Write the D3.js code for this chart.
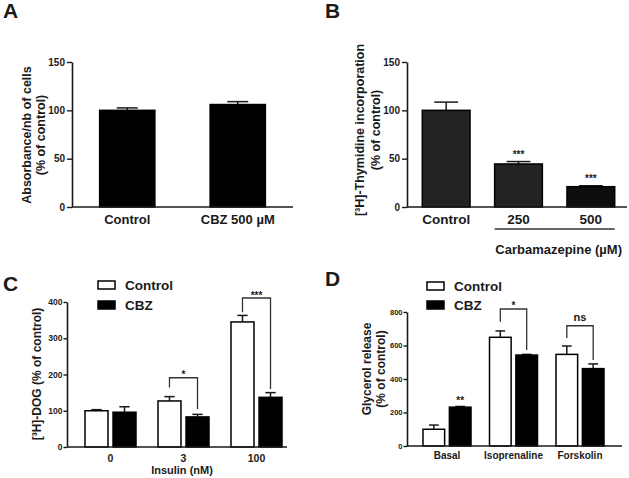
<!DOCTYPE html>
<html><head><meta charset="utf-8">
<script src="https://cdn.jsdelivr.net/npm/d3@7"></script>
<style>
body{margin:0;background:#fff;}
text{font-family:"Liberation Sans",Arial,sans-serif;font-weight:bold;fill:#1a1a1a;}
</style></head>
<body><svg id="chart" width="629" height="478"></svg>
<script>
// ---- Panel A data ----
const aCategories = ["Control", "CBZ 500 µM"];
const aValues = [100, 106];
const aErrors = [2.5, 3];
const aTicks = [0, 50, 100, 150];

// ---- Panel B data ----
const bCategories = ["Control", "250", "500"];
const bValues = [100, 44.5, 21];
const bErrors = [8.5, 2.5, 1];
const bSig = ["", "***", "***"];
const bTicks = [0, 50, 100, 150];

// ---- Panel C data ----
const cGroups = ["0", "3", "100"];
const cSeries = ["Control", "CBZ"];
const cControl = [100, 127, 345];
const cControlErr = [3, 12, 18];
const cCBZ = [96, 83, 137];
const cCBZErr = [15, 7, 13];
const cSigLabel = ["", "*", "***"];
const cSigTop = [null, 191, 411];
const cSigLeft = [null, 164, 372];
const cSigRight = [null, 105, 160];
const cTicks = [0, 100, 200, 300, 400];

// ---- Panel D data ----
const dGroups = ["Basal", "Isoprenaline", "Forskolin"];
const dControl = [100, 649, 547];
const dControlErr = [25, 38, 50];
const dCBZ = [232, 543, 462];
const dCBZErr = [4, 4, 28];
const dCBZStar = ["**", "", ""];
const dSigLabel = ["", "*", "ns"];
const dSigTop = [null, 818, 718];
const dSigLeft = [null, 742, 645];
const dSigRight = [null, 573, 513];
const dTicks = [0, 200, 400, 600, 800];

const svg = d3.select("#chart");
const INK = "#1a1a1a";

function yAxis(g, x, y, ticks, fs, size, pad) {
  const ax = g.append("g").attr("transform", `translate(${x},0)`)
    .call(d3.axisLeft(y).tickValues(ticks).tickSize(size).tickSizeOuter(0).tickPadding(pad));
  ax.select(".domain").attr("stroke", INK).attr("stroke-width", 1.6);
  ax.selectAll(".tick line").attr("stroke", INK).attr("stroke-width", 1.4);
  ax.selectAll(".tick text").style("font-size", fs + "px").attr("fill", INK)
    .style("font-family", '"Liberation Sans",Arial,sans-serif').style("font-weight", "bold");
  return ax;
}
function xLine(g, x0, x1, y0) {
  g.append("line").attr("x1", x0).attr("x2", x1).attr("y1", y0).attr("y2", y0)
    .attr("stroke", INK).attr("stroke-width", 1.6);
}
function bar(g, x, w, y, v, fill) {
  g.append("rect").attr("x", x).attr("width", w)
    .attr("y", y(v)).attr("height", y(0) - y(v))
    .attr("fill", fill).attr("stroke", "#000").attr("stroke-width", 1.5);
}
function errBar(g, cx, capW, y, v, e) {
  g.append("line").attr("x1", cx).attr("x2", cx).attr("y1", y(v)).attr("y2", y(v + e))
    .attr("stroke", INK).attr("stroke-width", 1.5);
  g.append("line").attr("x1", cx - capW / 2).attr("x2", cx + capW / 2).attr("y1", y(v + e)).attr("y2", y(v + e))
    .attr("stroke", INK).attr("stroke-width", 1.5);
}
function letter(t, x, y) {
  svg.append("text").attr("x", x).attr("y", y).text(t).style("font-size", "21px");
}
function vtitle(lines, xs, cy, fs) {
  lines.forEach((l, i) => {
    svg.append("text").attr("transform", `translate(${xs[i]},${cy}) rotate(-90)`)
      .attr("text-anchor", "middle").attr("dominant-baseline", "central")
      .style("font-size", fs + "px").text(l);
  });
}

// ================= Panel A =================
{
  const g = svg.append("g");
  const y = d3.scaleLinear().domain([0, 150]).range([207, 62]);
  const x = d3.scaleBand().domain(aCategories).range([72, 293]).padding(0);
  const bw = x.bandwidth() * 0.5;
  aCategories.forEach((c, i) => {
    const cx = x(c) + x.bandwidth() / 2;
    errBar(g, cx, bw * 0.38, y, aValues[i], aErrors[i]);
    bar(g, cx - bw / 2, bw, y, aValues[i], "#000");
    g.append("text").attr("x", cx).attr("y", 224).attr("text-anchor", "middle")
      .style("font-size", "13px").text(c);
  });
  yAxis(g, 72, y, aTicks, 10, 5, 2);
  xLine(g, 72, 293, 207);
  letter("A", 3, 18);
  vtitle(["Absorbance/nb of cells", "(% of control)"], [27, 41], 135, 12.5);
}

// ================= Panel B =================
{
  const g = svg.append("g");
  const y = d3.scaleLinear().domain([0, 150]).range([207, 62]);
  const x = d3.scaleBand().domain(bCategories).range([410, 627]).padding(0);
  const bw = x.bandwidth() * 0.66;
  const fills = ["#232323", "#232323", "#0e0e0e"];
  bCategories.forEach((c, i) => {
    const cx = x(c) + x.bandwidth() / 2;
    errBar(g, cx, bw * 0.5, y, bValues[i], bErrors[i]);
    bar(g, cx - bw / 2, bw, y, bValues[i], fills[i]);
    g.append("text").attr("x", cx).attr("y", 224).attr("text-anchor", "middle")
      .style("font-size", "13.5px").text(c);
    if (bSig[i]) {
      g.append("text").attr("x", cx).attr("y", y(bValues[i] + bErrors[i]) - 4)
        .attr("text-anchor", "middle").style("font-size", "10px").text(bSig[i]);
    }
  });
  yAxis(g, 407, y, bTicks, 10, 5, 2);
  xLine(g, 407, 627, 207);
  const x1 = x("250") + x.bandwidth() * 0.17, x2 = x("500") + x.bandwidth() * 0.83;
  g.append("line").attr("x1", x1).attr("x2", x2).attr("y1", 229).attr("y2", 229)
    .attr("stroke", "#333").attr("stroke-width", 1.3);
  g.append("text").attr("x", 622).attr("y", 254).attr("text-anchor", "end")
    .style("font-size", "13px").text("Carbamazepine (µM)");
  letter("B", 325, 18);
  vtitle(["[³H]-Thymidine incorporation", "(% of control)"], [360, 376], 130, 12.5);
}

// grouped panel helper
function grouped(opt) {
  const g = svg.append("g");
  const y = d3.scaleLinear().domain(opt.domain).range(opt.yRange);
  const x = d3.scaleBand().domain(opt.groups).range(opt.xRange).padding(0);
  const inner = d3.scaleBand().domain(cSeries).range([-opt.half, opt.half]).paddingInner(0.18);
  const bw = inner.bandwidth();
  opt.groups.forEach((gr, i) => {
    const gc = x(gr) + x.bandwidth() / 2;
    const vals = [opt.control[i], opt.cbz[i]];
    const errs = [opt.controlErr[i], opt.cbzErr[i]];
    const centers = [];
    cSeries.forEach((s, j) => {
      const bx = gc + inner(s);
      const cx = bx + bw / 2;
      centers.push(cx);
      errBar(g, cx, bw * 0.45, y, vals[j], errs[j]);
      bar(g, bx, bw, y, vals[j], j === 0 ? "#fff" : "#000");
    });
    g.append("text").attr("x", gc).attr("y", opt.labelY).attr("text-anchor", "middle")
      .style("font-size", opt.labelFs + "px").text(gr);
    if (opt.sigLabel[i]) {
      const top = y(opt.sigTop[i]);
      g.append("path")
        .attr("d", `M${centers[0]},${y(opt.sigLeft[i])}V${top}H${centers[1]}V${y(opt.sigRight[i])}`)
        .attr("fill", "none").attr("stroke", "#333").attr("stroke-width", 1.3);
      const isNs = opt.sigLabel[i] === "ns";
      g.append("text").attr("x", (centers[0] + centers[1]) / 2)
        .attr("y", isNs ? top - 4.5 : top + 0.5)
        .attr("text-anchor", "middle").style("font-size", isNs ? "11px" : "10px")
        .text(opt.sigLabel[i]);
    }
    if (opt.cbzStar && opt.cbzStar[i]) {
      g.append("text").attr("x", centers[1]).attr("y", y(opt.cbz[i] + opt.cbzErr[i]) - 2)
        .attr("text-anchor", "middle").style("font-size", "10px").text(opt.cbzStar[i]);
    }
  });
  yAxis(g, opt.axisX, y, opt.ticks, opt.tickFs, 3.5, 1);
  xLine(g, opt.axisX, opt.axisEnd, opt.yRange[0]);
  // legend
  const L = opt.legend;
  cSeries.forEach((s, j) => {
    g.append("rect").attr("x", L.x).attr("y", L.ys[j]).attr("width", 17).attr("height", 8)
      .attr("fill", j === 0 ? "#fff" : "#000").attr("stroke", "#000").attr("stroke-width", 1.5);
    g.append("text").attr("x", L.x + 27).attr("y", L.ys[j] + 4).attr("dominant-baseline", "central")
      .style("font-size", "13.5px").text(s);
  });
}

// ================= Panel C =================
grouped({
  groups: cGroups, control: cControl, controlErr: cControlErr, cbz: cCBZ, cbzErr: cCBZErr,
  sigLabel: cSigLabel, sigTop: cSigTop, sigLeft: cSigLeft, sigRight: cSigRight,
  domain: [0, 400], yRange: [447, 302], xRange: [74, 293], half: 25.5,
  axisX: 67, axisEnd: 287, ticks: cTicks, tickFs: 8.5, labelY: 461.5, labelFs: 10.5,
  legend: { x: 98, ys: [281, 301] }
});
svg.append("text").attr("x", 182).attr("y", 474).attr("text-anchor", "middle")
  .style("font-size", "11px").text("Insulin (nM)");
letter("C", 3, 291);
vtitle(["[³H]-DOG (% of control)"], [37], 374, 12);

// ================= Panel D =================
grouped({
  groups: dGroups, control: dControl, controlErr: dControlErr, cbz: dCBZ, cbzErr: dCBZErr,
  sigLabel: dSigLabel, sigTop: dSigTop, sigLeft: dSigLeft, sigRight: dSigRight, cbzStar: dCBZStar,
  domain: [0, 800], yRange: [446, 312], xRange: [413.75, 613.25], half: 24,
  axisX: 407, axisEnd: 622, ticks: dTicks, tickFs: 7.5, labelY: 459, labelFs: 10,
  legend: { x: 427, ys: [282, 301] }
});
letter("D", 325, 286);
vtitle(["Glycerol release", "(% of control)"], [367, 381], 369, 12);
</script></body></html>
